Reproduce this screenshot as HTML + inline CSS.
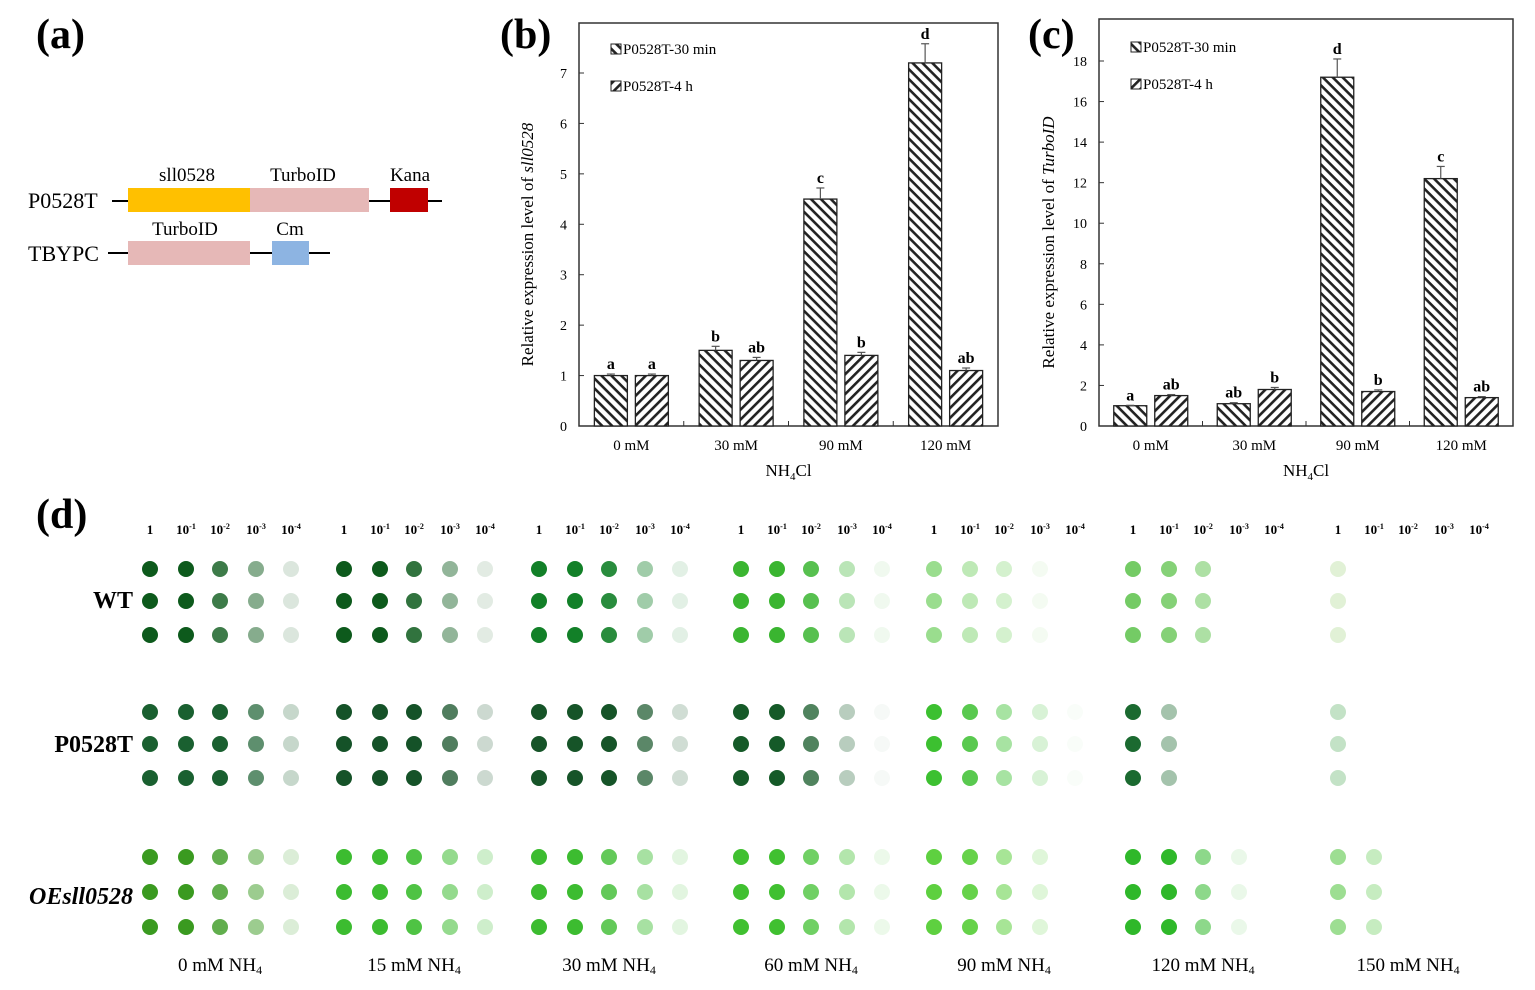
<!DOCTYPE html>
<html><head><meta charset="utf-8">
<style>
html,body{margin:0;padding:0;background:#fff;}
svg{display:block;font-family:"Liberation Serif",serif;}
</style></head>
<body>
<svg id="fig" width="1535" height="990" viewBox="0 0 1535 990" xmlns="http://www.w3.org/2000/svg">
<defs>
<pattern id="hatchA" patternUnits="userSpaceOnUse" width="7" height="7" patternTransform="rotate(45)">
<rect width="7" height="7" fill="#fff"/><rect x="0" y="0" width="7" height="2.6" fill="#222"/></pattern>
<pattern id="hatchB" patternUnits="userSpaceOnUse" width="7" height="7" patternTransform="rotate(-45)">
<rect width="7" height="7" fill="#fff"/><rect x="0" y="0" width="7" height="2.6" fill="#222"/></pattern>
</defs>

<!-- Panel (a) -->
<g>
<text x="36" y="48" font-size="42" font-weight="bold">(a)</text>
<line x1="112" y1="201" x2="442" y2="201" stroke="#000" stroke-width="2"/>
<text x="28" y="208" font-size="22">P0528T</text>
<rect x="128" y="188" width="122" height="24" fill="#ffc000"/>
<rect x="250" y="188" width="119" height="24" fill="#e6b8b7"/>
<rect x="390" y="188" width="38" height="24" fill="#c00000"/>
<text x="187" y="181" font-size="19" text-anchor="middle">sll0528</text>
<text x="303" y="181" font-size="19" text-anchor="middle">TurboID</text>
<text x="410" y="181" font-size="19" text-anchor="middle">Kana</text>
<line x1="108" y1="253" x2="330" y2="253" stroke="#000" stroke-width="2"/>
<text x="28" y="261" font-size="22">TBYPC</text>
<rect x="128" y="241" width="122" height="24" fill="#e6b8b7"/>
<rect x="272" y="241" width="37" height="24" fill="#8db4e2"/>
<text x="185" y="235" font-size="19" text-anchor="middle">TurboID</text>
<text x="290" y="235" font-size="19" text-anchor="middle">Cm</text>
</g>

<text x="500" y="48" font-size="42" font-weight="bold">(b)</text>
<text x="1028" y="48" font-size="42" font-weight="bold">(c)</text>
<g id="chartB"></g>
<g id="chartC"></g>

<text x="36" y="528" font-size="42" font-weight="bold">(d)</text>
<g id="spots"></g>
</svg>

<script>
const NS="http://www.w3.org/2000/svg";
const categories=["0 mM","30 mM","90 mM","120 mM"];
const seriesNames=["P0528T-30 min","P0528T-4 h"];
const bVals30=[1.0,1.5,4.5,7.2];
const bVals4h=[1.0,1.3,1.4,1.1];
const bErr30=[0.03,0.08,0.22,0.38];
const bErr4h=[0.03,0.06,0.06,0.05];
const bLet30=["a","b","c","d"];
const bLet4h=["a","ab","b","ab"];
const bTicks=[0,1,2,3,4,5,6,7];
const cVals30=[1.0,1.1,17.2,12.2];
const cVals4h=[1.5,1.8,1.7,1.4];
const cErr30=[0.02,0.05,0.9,0.6];
const cErr4h=[0.05,0.1,0.08,0.05];
const cLet30=["a","ab","d","c"];
const cLet4h=["ab","b","b","ab"];
const cTicks=[0,2,4,6,8,10,12,14,16,18];

function el(tag,attrs,parent,txt){const e=document.createElementNS(NS,tag);for(const k in attrs)e.setAttribute(k,attrs[k]);if(txt!==undefined)e.textContent=txt;parent.appendChild(e);return e;}

function chart(g,box,yMax,ticks,v30,v4,e30,e4,l30,l4,yTitleA,yTitleB,titleX,legX,legY){
  const L=box.l,R=box.r,T=box.t,B=box.b;
  const y0=B, yTop=box.yTopPix;
  const ys=v=>y0-(y0-yTop)*v/yMax;
  const band=(R-L)/categories.length;
  const frame=el('rect',{x:L,y:T,width:R-L,height:B-T,fill:'none',stroke:'#333','stroke-width':1.5},g);
  
  ticks.forEach(t=>{
    const tk=el('line',{x1:L,x2:L+5,y1:ys(t),y2:ys(t),stroke:'#333'},g);
    
    const tl=el('text',{x:L-12,y:ys(t)+5,'font-size':14,'text-anchor':'end'},g,String(t));
    
  });
  categories.forEach((c,i)=>{
    const cx=L+band*(i+0.5);
    if(i>0){const tk=el('line',{x1:L+band*i,x2:L+band*i,y1:B,y2:B-5,stroke:'#333'},g);
      }
    const xl=el('text',{x:cx,y:B+24,'font-size':15,'text-anchor':'middle'},g,c);
    
    [[v30,e30,l30,'url(#hatchA)',-1],[v4,e4,l4,'url(#hatchB)',1]].forEach((s,k)=>{
      const w=33, bx=cx+(s[4]<0?-w-4:4);
      const v=s[0][i], top=ys(v);
      const r=el('rect',{x:bx,y:top,width:w,height:y0-top,fill:s[3],stroke:'#222','stroke-width':1.3},g);
      
      const et=ys(v+s[1][i]);
      const eb=el('line',{x1:bx+w/2,x2:bx+w/2,y1:top,y2:et,stroke:'#555','stroke-width':1.2},g);
      
      const ec=el('line',{x1:bx+w/2-4,x2:bx+w/2+4,y1:et,y2:et,stroke:'#555','stroke-width':1.2},g);
      
      const lt=el('text',{x:bx+w/2,y:et-5,'font-size':16,'font-weight':'bold','text-anchor':'middle'},g,s[2][i]);
      
    });
  });
  const yt=el('text',{transform:`translate(${titleX},${(T+B)/2+20}) rotate(-90)`,'font-size':17,'text-anchor':'middle'},g);
  
  el('tspan',{},yt,yTitleA);el('tspan',{'font-style':'italic'},yt,yTitleB);
  const xt=el('text',{x:(L+R)/2,y:B+50,'font-size':17,'text-anchor':'middle'},g);
  
  el('tspan',{},xt,'NH');el('tspan',{'font-size':11,dy:4},xt,'4');el('tspan',{dy:-4},xt,'Cl');
  seriesNames.forEach((n,k)=>{
    const yy=legY+k*37;
    const sw=el('rect',{x:legX,y:yy-10,width:10,height:10,fill:k==0?'url(#hatchA)':'url(#hatchB)',stroke:'#222'},g);
    
    const lt=el('text',{x:legX+12,y:yy,'font-size':15},g,n);
    
  });
}
chart(document.getElementById('chartB'),{l:579,r:998,t:23,b:426,yTopPix:73},7,bTicks,bVals30,bVals4h,bErr30,bErr4h,bLet30,bLet4h,'Relative expression level of ','sll0528',533,611,54);
chart(document.getElementById('chartC'),{l:1099,r:1513,t:19,b:426,yTopPix:61},18,cTicks,cVals30,cVals4h,cErr30,cErr4h,cLet30,cLet4h,'Relative expression level of ','TurboID',1054,1131,52);

// Spot assay
const conditions=["0 mM NH","15 mM NH","30 mM NH","60 mM NH","90 mM NH","120 mM NH","150 mM NH"];
const strains=["WT","P0528T","OEsll0528"];
const dilutions=["1","10-1","10-2","10-3","10-4"];
const groupX=[150,344,539,741,934,1133,1338];
const colOff=[0,36,70,106,141];
const strainY=[[569,601,635],[712,744,778],[857,892,927]];
const baseCol=[
 ["#0d5a1c","#0d5a1c","#128028","#3ab530","#6fcf5e","#5cc24a","#a8d88a"],
 ["#1a6030","#155228","#165428","#155a28","#3cc030","#1b6a30","#7bbf80"],
 ["#3a9a20","#3cbc30","#3cbc30","#40c030","#5ed040","#2fb82a","#5cc84a"]];
const growth=[
 [[1,1,0.8,0.5,0.15],[1,1,0.85,0.45,0.12],[1,1,0.9,0.4,0.12],[1,1,0.85,0.35,0.08],[0.7,0.45,0.3,0.08,0],[0.85,0.75,0.5,0,0],[0.35,0,0,0,0]],
 [[1,1,1,0.7,0.25],[1,1,1,0.75,0.22],[1,1,1,0.7,0.2],[1,1,0.75,0.3,0.04],[1,0.85,0.45,0.2,0.03],[1,0.4,0,0,0],[0.45,0,0,0,0]],
 [[1,1,0.8,0.5,0.18],[1,1,0.9,0.55,0.25],[1,1,0.8,0.45,0.15],[1,1,0.75,0.4,0.1],[1,0.95,0.55,0.2,0],[1,1,0.55,0.1,0],[0.6,0.35,0,0,0]]];
const g=document.getElementById('spots');
groupX.forEach((gx,gi)=>{
  dilutions.forEach((d,di)=>{
    const x=gx+colOff[di];
    const t=el('text',{x:x,y:534,'font-size':13,'font-weight':'bold','text-anchor':'middle'},g);
    
    if(d==="1"){t.textContent="1";}else{el('tspan',{},t,'10');el('tspan',{'font-size':8,dy:-5},t,'-'+d.slice(3));}
  });
  const cl=el('text',{x:gx+70,y:971,'font-size':19,'text-anchor':'middle'},g);
  
  el('tspan',{},cl,conditions[gi]);el('tspan',{'font-size':12,dy:3},cl,'4');
  strains.forEach((s,si)=>{
    strainY[si].forEach(y=>{
      growth[si][gi].forEach((a,di)=>{
        if(a<=0)return;
        const c=el('circle',{cx:gx+colOff[di],cy:y,r:8,fill:baseCol[si][gi],'fill-opacity':a},g);
        
      });
    });
  });
});
const strainLabelY=[608,752,904];
strains.forEach((s,si)=>{
  const t=el('text',{x:133,y:strainLabelY[si],'font-size':24,'font-weight':'bold','text-anchor':'end','font-style':si==2?'italic':'normal'},g,s);
  
});
</script>
</body></html>
